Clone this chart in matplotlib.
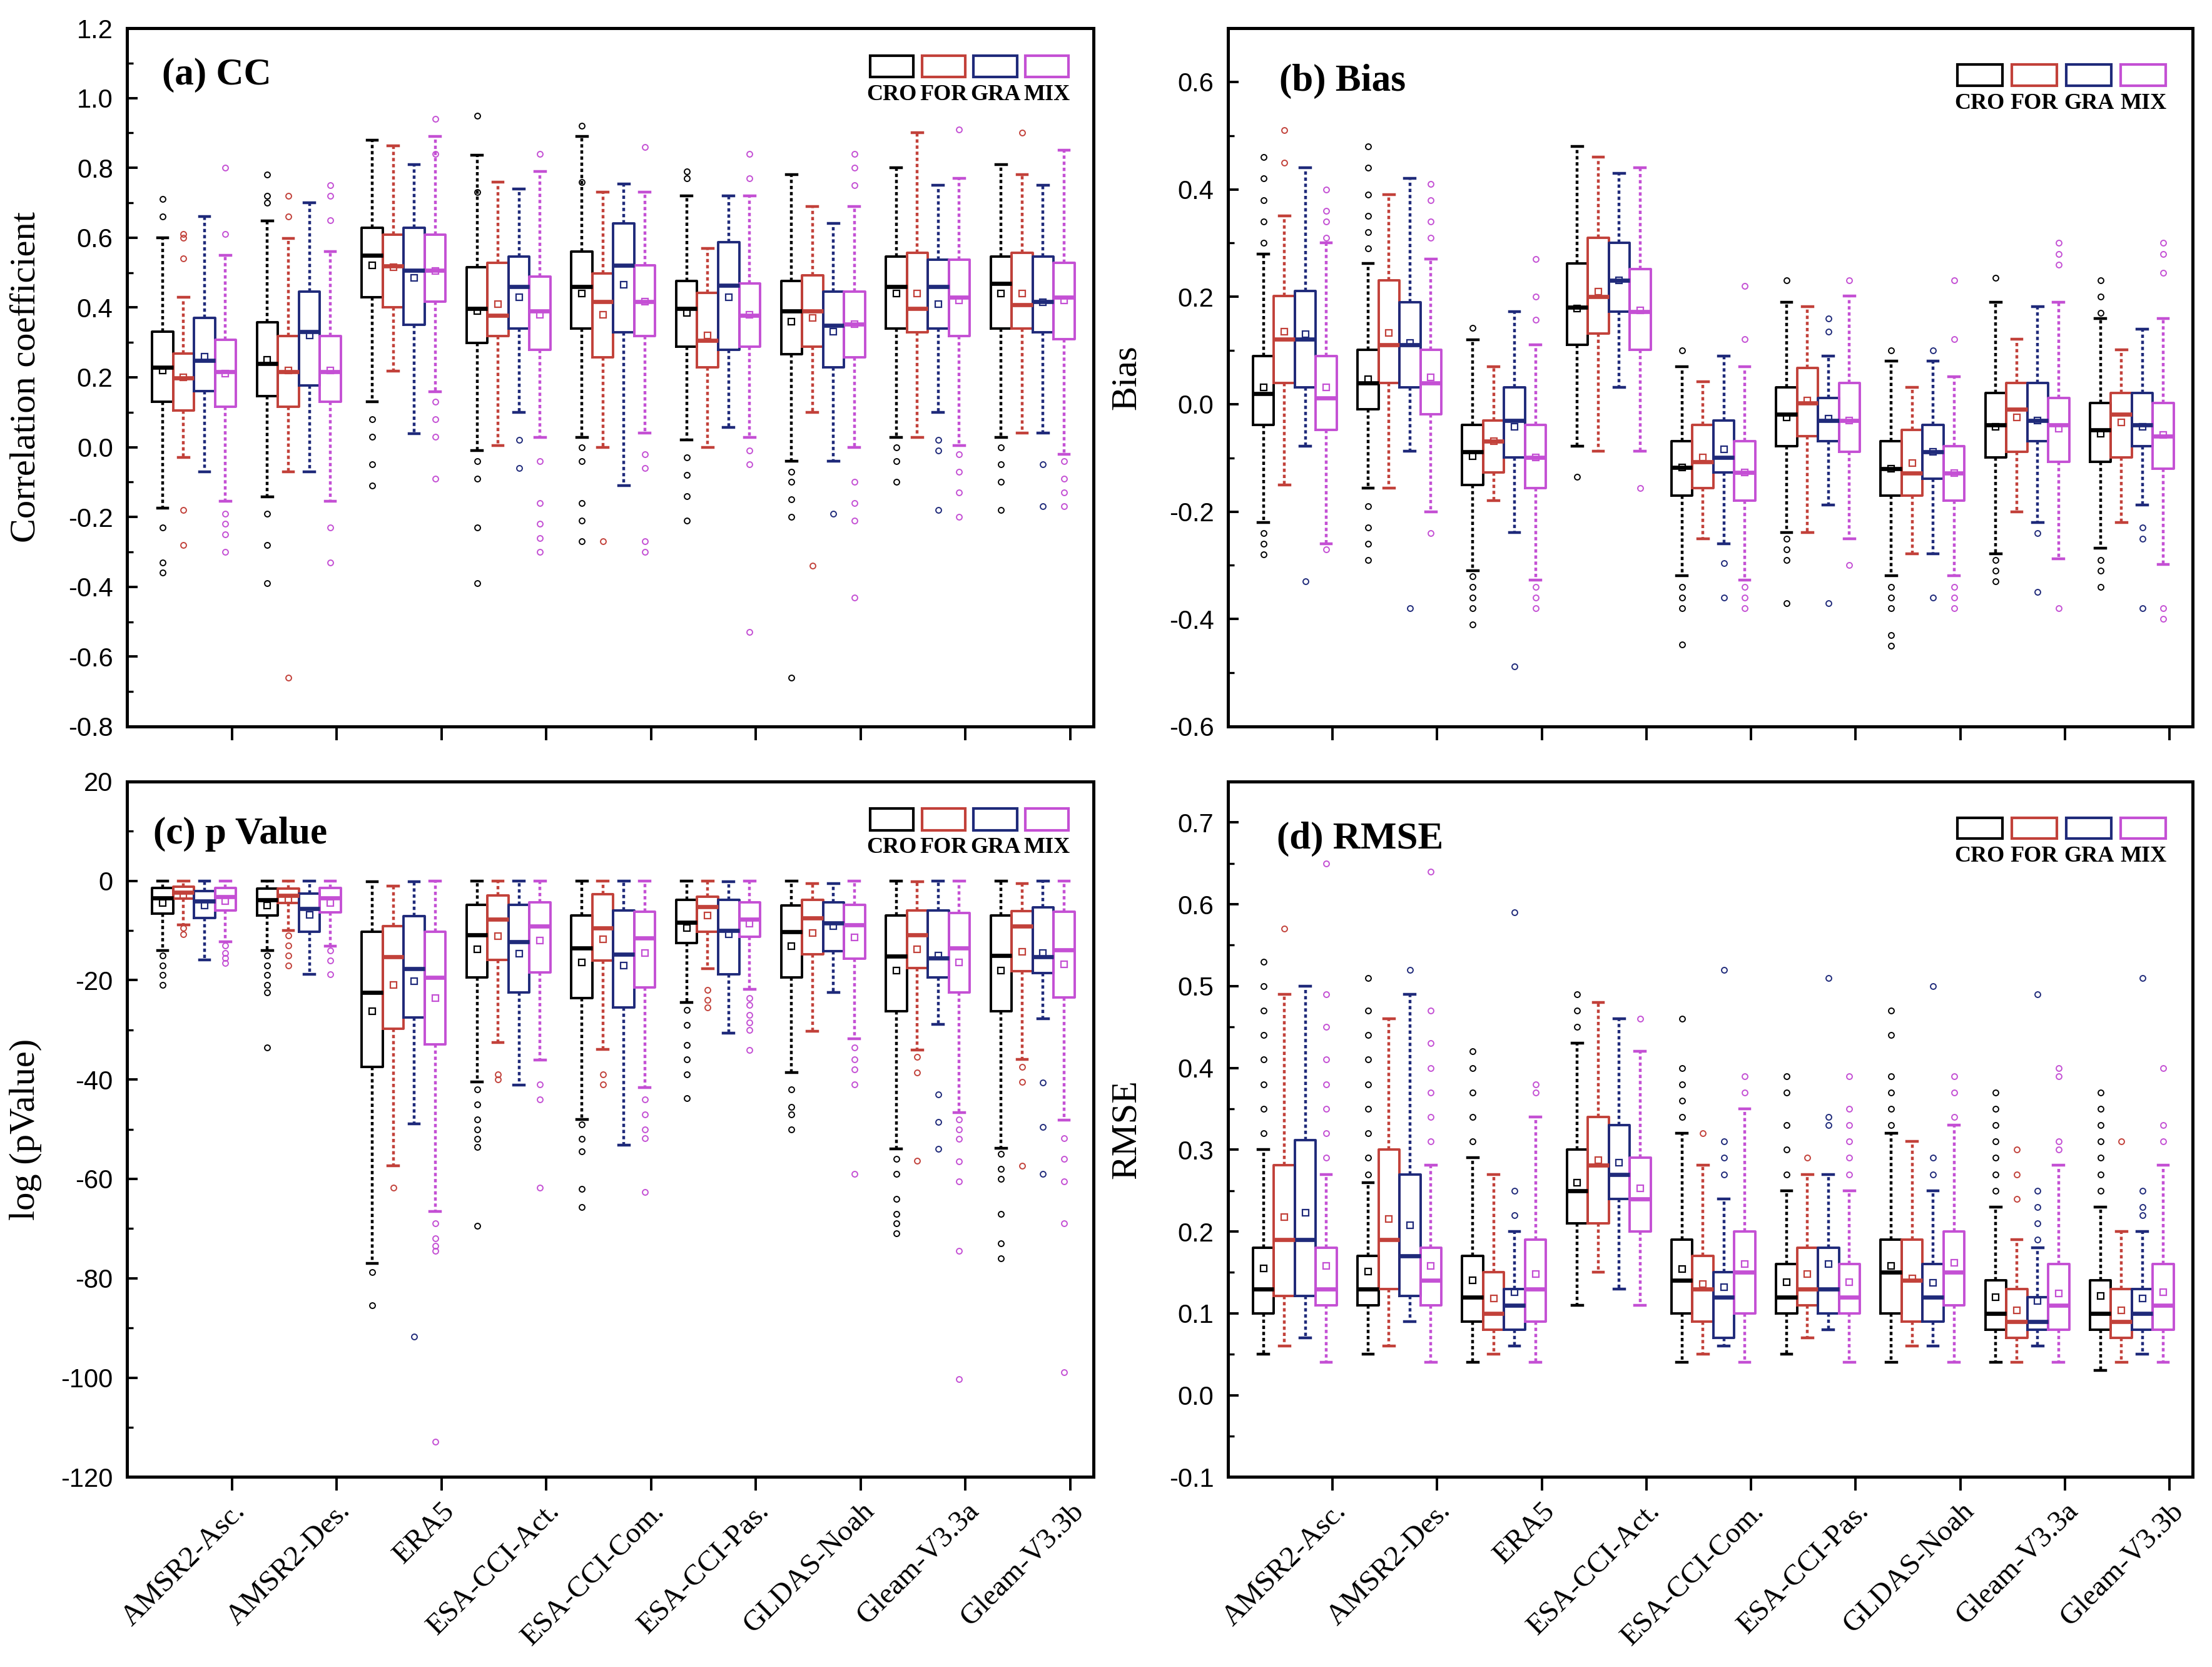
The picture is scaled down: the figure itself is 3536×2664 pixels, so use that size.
import numpy as np
import matplotlib.pyplot as plt
from matplotlib.patches import Rectangle
from matplotlib.ticker import MultipleLocator, FormatStrFormatter

plt.rcParams['font.family'] = 'Liberation Serif'

products = ['AMSR2-Asc.', 'AMSR2-Des.', 'ERA5', 'ESA-CCI-Act.', 'ESA-CCI-Com.',
            'ESA-CCI-Pas.', 'GLDAS-Noah', 'Gleam-V3.3a', 'Gleam-V3.3b']
classes = ['CRO', 'FOR', 'GRA', 'MIX']
colors = ['#000000', '#C2413A', '#1F2A7A', '#C450D4']

# ---- (a) CC : rows = products, cols = CRO, FOR, GRA, MIX ----
cc_q1 = [[0.13, 0.105, 0.16, 0.115], [0.146, 0.116, 0.176, 0.13], [0.43, 0.40, 0.35, 0.417],
         [0.298, 0.318, 0.34, 0.279], [0.339, 0.257, 0.329, 0.318], [0.287, 0.228, 0.279, 0.287],
         [0.267, 0.287, 0.228, 0.257], [0.339, 0.329, 0.339, 0.318], [0.339, 0.339, 0.329, 0.309]]
cc_med = [[0.228, 0.198, 0.248, 0.216], [0.24, 0.216, 0.33, 0.216], [0.549, 0.519, 0.507, 0.507],
          [0.398, 0.378, 0.459, 0.39], [0.459, 0.417, 0.52, 0.417], [0.398, 0.306, 0.464, 0.378],
          [0.39, 0.39, 0.348, 0.352], [0.459, 0.398, 0.459, 0.429], [0.468, 0.407, 0.417, 0.429]]
cc_q3 = [[0.33, 0.268, 0.37, 0.308], [0.358, 0.318, 0.446, 0.318], [0.629, 0.609, 0.629, 0.609],
         [0.515, 0.528, 0.546, 0.489], [0.56, 0.498, 0.64, 0.52], [0.476, 0.442, 0.588, 0.468],
         [0.476, 0.492, 0.446, 0.446], [0.546, 0.557, 0.537, 0.537], [0.546, 0.557, 0.546, 0.528]]
cc_lo = [[-0.175, -0.03, -0.07, -0.154], [-0.142, -0.07, -0.07, -0.154], [0.13, 0.218, 0.039, 0.159],
         [-0.01, 0.005, 0.10, 0.028], [0.028, 0.0, -0.11, 0.04], [0.02, 0.0, 0.057, 0.028],
         [-0.04, 0.10, -0.04, 0.0], [0.028, 0.028, 0.10, 0.005], [0.028, 0.04, 0.04, -0.02]]
cc_hi = [[0.60, 0.43, 0.66, 0.55], [0.648, 0.598, 0.70, 0.56], [0.879, 0.863, 0.809, 0.89],
         [0.837, 0.759, 0.74, 0.79], [0.89, 0.73, 0.753, 0.73], [0.72, 0.57, 0.72, 0.72],
         [0.78, 0.69, 0.64, 0.69], [0.80, 0.90, 0.75, 0.77], [0.81, 0.78, 0.75, 0.85]]
cc_mean = [[0.22, 0.20, 0.26, 0.21], [0.25, 0.22, 0.32, 0.22], [0.52, 0.515, 0.485, 0.505],
           [0.39, 0.41, 0.43, 0.38], [0.44, 0.38, 0.465, 0.417], [0.385, 0.32, 0.43, 0.38],
           [0.36, 0.37, 0.33, 0.352], [0.44, 0.44, 0.41, 0.42], [0.44, 0.44, 0.415, 0.42]]
cc_fliers = [
    [[0.71, 0.66, -0.23, -0.33, -0.36], [0.61, 0.60, 0.54, -0.18, -0.28], [], [0.80, 0.61, -0.19, -0.22, -0.25, -0.30]],
    [[0.78, 0.72, 0.70, -0.19, -0.28, -0.39], [0.72, 0.66, -0.66], [], [0.75, 0.72, 0.65, -0.23, -0.33]],
    [[0.08, 0.03, -0.05, -0.11], [], [], [0.94, 0.84, 0.13, 0.08, 0.03, -0.09]],
    [[0.95, 0.73, -0.04, -0.09, -0.23, -0.39], [], [0.02, -0.06], [0.84, -0.04, -0.16, -0.22, -0.26, -0.30]],
    [[0.92, 0.76, 0.0, -0.04, -0.16, -0.21, -0.27], [-0.27], [], [0.86, -0.02, -0.06, -0.27, -0.30]],
    [[0.79, 0.77, -0.03, -0.08, -0.14, -0.21], [], [], [0.84, 0.77, -0.01, -0.05, -0.53]],
    [[-0.07, -0.10, -0.15, -0.20, -0.66], [-0.34], [-0.19], [0.84, 0.80, 0.75, -0.10, -0.16, -0.21, -0.43]],
    [[0.0, -0.04, -0.10], [], [0.02, -0.01, -0.18], [0.91, -0.02, -0.07, -0.13, -0.20]],
    [[0.0, -0.05, -0.10, -0.18], [0.90], [-0.05, -0.17], [-0.04, -0.09, -0.13, -0.17]],
]

# ---- (b) Bias ----
bias_q1 = [[-0.038, 0.04, 0.031, -0.048], [-0.009, 0.04, 0.031, -0.019], [-0.15, -0.127, -0.099, -0.156],
           [0.11, 0.131, 0.172, 0.101], [-0.17, -0.156, -0.127, -0.18], [-0.078, -0.059, -0.069, -0.089],
           [-0.17, -0.17, -0.139, -0.18], [-0.099, -0.089, -0.069, -0.107], [-0.107, -0.099, -0.078, -0.12]]
bias_med = [[0.02, 0.121, 0.121, 0.011], [0.04, 0.11, 0.11, 0.04], [-0.089, -0.069, -0.03, -0.099],
            [0.181, 0.2, 0.231, 0.172], [-0.118, -0.107, -0.099, -0.127], [-0.019, 0.002, -0.03, -0.03],
            [-0.12, -0.128, -0.089, -0.128], [-0.038, -0.009, -0.03, -0.038], [-0.048, -0.019, -0.038, -0.059]]
bias_q3 = [[0.09, 0.202, 0.211, 0.09], [0.101, 0.231, 0.19, 0.101], [-0.038, -0.03, 0.031, -0.038],
           [0.262, 0.31, 0.30, 0.251], [-0.069, -0.038, -0.03, -0.069], [0.031, 0.068, 0.011, 0.04],
           [-0.069, -0.048, -0.038, -0.078], [0.021, 0.04, 0.04, 0.011], [0.002, 0.021, 0.021, 0.002]]
bias_lo = [[-0.22, -0.15, -0.078, -0.26], [-0.156, -0.156, -0.087, -0.2], [-0.31, -0.18, -0.239, -0.328],
           [-0.078, -0.087, 0.031, -0.087], [-0.319, -0.25, -0.26, -0.328], [-0.239, -0.239, -0.188, -0.25],
           [-0.319, -0.279, -0.279, -0.319], [-0.279, -0.2, -0.22, -0.288], [-0.268, -0.22, -0.188, -0.298]]
bias_hi = [[0.28, 0.35, 0.44, 0.30], [0.262, 0.39, 0.42, 0.27], [0.12, 0.07, 0.172, 0.11],
           [0.48, 0.46, 0.43, 0.44], [0.07, 0.042, 0.09, 0.07], [0.19, 0.182, 0.09, 0.201],
           [0.08, 0.031, 0.08, 0.051], [0.19, 0.121, 0.182, 0.19], [0.16, 0.101, 0.14, 0.16]]
bias_mean = [[0.031, 0.135, 0.13, 0.031], [0.046, 0.133, 0.114, 0.05], [-0.097, -0.069, -0.042, -0.099],
             [0.178, 0.21, 0.23, 0.175], [-0.118, -0.099, -0.084, -0.127], [-0.025, 0.007, -0.027, -0.03],
             [-0.12, -0.11, -0.089, -0.128], [-0.042, -0.025, -0.03, -0.046], [-0.055, -0.034, -0.042, -0.057]]
bias_fliers = [
    [[0.46, 0.42, 0.38, 0.34, 0.30, -0.24, -0.26, -0.28], [0.51, 0.45], [-0.33], [0.40, 0.36, 0.34, 0.31, -0.27]],
    [[0.48, 0.44, 0.39, 0.35, 0.32, 0.29, -0.19, -0.23, -0.26, -0.29], [], [-0.38], [0.41, 0.38, 0.34, 0.31, -0.24]],
    [[0.142, -0.32, -0.34, -0.36, -0.38, -0.41], [], [-0.488], [0.27, 0.20, 0.157, -0.34, -0.36, -0.38]],
    [[-0.135], [], [], [-0.156]],
    [[0.10, -0.34, -0.36, -0.38, -0.448], [], [-0.296, -0.36], [0.22, 0.121, -0.34, -0.36, -0.38]],
    [[0.23, -0.25, -0.27, -0.29, -0.37], [], [0.16, 0.135, -0.37], [0.23, -0.30]],
    [[0.10, -0.34, -0.36, -0.38, -0.43, -0.45], [], [0.10, -0.36], [0.23, 0.121, -0.34, -0.36, -0.38]],
    [[0.235, -0.29, -0.31, -0.33], [], [-0.24, -0.35], [0.30, 0.28, 0.26, -0.38]],
    [[0.23, 0.20, 0.17, -0.29, -0.31, -0.34], [], [-0.23, -0.25, -0.38], [0.30, 0.28, 0.245, -0.38, -0.40]],
]

# ---- (c) log(pValue) ----
pv_q1 = [[-6.6, -3.6, -7.5, -6.0], [-7.0, -4.5, -10.3, -6.4], [-37.5, -29.8, -27.5, -32.9],
         [-19.4, -15.9, -22.5, -18.4], [-23.6, -16.1, -25.5, -21.5], [-12.5, -10.3, -18.8, -11.2],
         [-19.4, -14.8, -14.1, -15.6], [-26.2, -17.5, -19.4, -22.5], [-26.2, -18.2, -18.6, -23.5]]
pv_med = [[-3.5, -2.3, -4.1, -3.2], [-3.8, -2.9, -5.6, -3.5], [-22.5, -15.3, -17.7, -19.5],
          [-10.9, -7.7, -12.3, -9.1], [-13.5, -9.5, -14.8, -11.5], [-8.4, -5.2, -10.0, -7.7],
          [-10.3, -7.5, -8.5, -8.8], [-15.2, -10.9, -15.5, -13.5], [-15.0, -9.1, -15.3, -13.9]]
pv_q3 = [[-1.4, -1.2, -2.0, -1.4], [-1.6, -1.6, -2.5, -1.4], [-10.3, -9.1, -7.1, -10.3],
         [-4.8, -2.9, -4.8, -4.3], [-7.0, -2.7, -6.0, -6.2], [-3.8, -3.2, -3.8, -4.3],
         [-5.0, -3.8, -4.3, -4.8], [-7.0, -6.0, -6.0, -6.5], [-7.0, -6.1, -5.3, -6.2]]
pv_lo = [[-14, -8.8, -15.9, -12.3], [-14, -10, -18.8, -13.2], [-77, -57.3, -48.9, -66.5],
         [-40.5, -32.5, -41.1, -36.1], [-48, -33.9, -53.2, -41.6], [-24.5, -17.7, -30.7, -21.8],
         [-38.6, -30.3, -22.5, -31.8], [-54, -34, -28.9, -46.6], [-53.8, -35.9, -27.7, -48.2]]
pv_hi = [[0, 0, 0, 0], [0, 0, 0, 0], [-0.2, -1.1, -0.2, 0],
         [0, 0, 0, 0], [0, 0, 0, 0], [0, 0, -0.2, 0],
         [0, -0.5, -0.6, 0], [0, -0.2, 0, 0], [0, -0.5, 0, 0]]
pv_mean = [[-4.5, -2.9, -5.0, -4.1], [-5.0, -3.8, -6.9, -4.5], [-26.2, -20.9, -20.2, -23.6],
           [-13.8, -11.1, -14.7, -12.0], [-16.4, -11.8, -17.0, -14.5], [-9.5, -7.0, -10.7, -8.6],
           [-13.2, -10.5, -9.1, -11.4], [-18.0, -13.8, -15.0, -16.4], [-18.0, -14.3, -14.5, -16.8]]
pv_fliers = [
    [[-15, -17, -19, -21], [-9.5, -10.7], [], [-13, -14.5, -15.5, -16.5]],
    [[-15, -17, -19, -21, -22.5, -33.5], [-11, -13, -15, -17], [], [-14, -16, -18.8]],
    [[-78.8, -85.5], [-61.8], [-91.8], [-69, -72, -73.5, -74.5, -112.9]],
    [[-42, -45, -48, -50, -52, -53.6, -69.5], [-39, -40], [], [-41, -44, -61.8]],
    [[-49, -52, -54.5, -62, -65.7], [-39, -41], [], [-44, -47, -50, -51.8, -62.7]],
    [[-26, -29, -33, -36, -39, -43.8], [-22, -24, -25.5], [], [-23.6, -25, -27, -28.5, -30, -34]],
    [[-42, -45.5, -47, -50], [], [], [-33.6, -36, -38, -41, -59]],
    [[-56, -59, -64, -67, -69, -71], [-35.5, -38.6, -56.4], [-43, -48.6, -54], [-48, -50, -52, -56.5, -60.5, -74.5, -100.3]],
    [[-55, -58, -60, -67, -73, -76], [-37.5, -40.5, -57.3], [-40.6, -49.5, -59], [-51.8, -56, -60.5, -69, -98.9]],
]

# ---- (d) RMSE ----
rmse_q1 = [[0.10, 0.121, 0.121, 0.11], [0.11, 0.13, 0.121, 0.11], [0.09, 0.08, 0.08, 0.09],
           [0.21, 0.21, 0.24, 0.20], [0.10, 0.09, 0.07, 0.10], [0.10, 0.11, 0.10, 0.10],
           [0.10, 0.09, 0.09, 0.11], [0.08, 0.07, 0.08, 0.08], [0.08, 0.07, 0.08, 0.08]]
rmse_med = [[0.13, 0.19, 0.19, 0.13], [0.13, 0.19, 0.17, 0.14], [0.12, 0.10, 0.11, 0.13],
            [0.25, 0.281, 0.27, 0.24], [0.14, 0.13, 0.12, 0.15], [0.12, 0.13, 0.13, 0.12],
            [0.15, 0.14, 0.12, 0.15], [0.10, 0.09, 0.09, 0.11], [0.10, 0.09, 0.10, 0.11]]
rmse_q3 = [[0.18, 0.281, 0.312, 0.18], [0.17, 0.30, 0.27, 0.18], [0.17, 0.15, 0.13, 0.19],
           [0.30, 0.34, 0.33, 0.29], [0.19, 0.17, 0.15, 0.20], [0.16, 0.18, 0.18, 0.16],
           [0.19, 0.19, 0.16, 0.20], [0.14, 0.13, 0.12, 0.16], [0.14, 0.13, 0.13, 0.16]]
rmse_lo = [[0.05, 0.06, 0.07, 0.04], [0.05, 0.06, 0.09, 0.04], [0.04, 0.05, 0.06, 0.04],
           [0.11, 0.15, 0.13, 0.11], [0.04, 0.05, 0.06, 0.04], [0.05, 0.07, 0.08, 0.04],
           [0.04, 0.06, 0.06, 0.04], [0.04, 0.04, 0.06, 0.04], [0.03, 0.04, 0.05, 0.04]]
rmse_hi = [[0.30, 0.49, 0.50, 0.27], [0.26, 0.46, 0.49, 0.281], [0.29, 0.27, 0.20, 0.34],
           [0.43, 0.48, 0.46, 0.42], [0.32, 0.281, 0.24, 0.35], [0.25, 0.27, 0.27, 0.25],
           [0.32, 0.31, 0.25, 0.33], [0.23, 0.19, 0.18, 0.281], [0.23, 0.20, 0.20, 0.281]]
rmse_mean = [[0.155, 0.218, 0.223, 0.158], [0.151, 0.215, 0.208, 0.158], [0.14, 0.118, 0.126, 0.148],
             [0.26, 0.287, 0.284, 0.253], [0.154, 0.136, 0.132, 0.16], [0.138, 0.148, 0.16, 0.138],
             [0.158, 0.143, 0.137, 0.162], [0.12, 0.104, 0.115, 0.124], [0.121, 0.104, 0.118, 0.126]]
rmse_fliers = [
    [[0.53, 0.50, 0.47, 0.44, 0.41, 0.38, 0.35, 0.32], [0.57], [], [0.65, 0.49, 0.45, 0.41, 0.38, 0.35, 0.32, 0.29]],
    [[0.51, 0.47, 0.44, 0.41, 0.38, 0.35, 0.32, 0.29, 0.27], [], [0.52], [0.64, 0.47, 0.43, 0.40, 0.37, 0.34, 0.31]],
    [[0.42, 0.40, 0.37, 0.34, 0.31], [], [0.59, 0.25, 0.22], [0.38, 0.37]],
    [[0.49, 0.47, 0.45], [], [], [0.46]],
    [[0.46, 0.40, 0.38, 0.36, 0.34], [0.32], [0.52, 0.31, 0.29, 0.27], [0.39, 0.37]],
    [[0.39, 0.37, 0.33, 0.30, 0.27], [0.29], [0.51, 0.34, 0.33], [0.39, 0.35, 0.33, 0.31, 0.29, 0.27]],
    [[0.47, 0.44, 0.39, 0.37, 0.35, 0.33], [], [0.50, 0.29, 0.27], [0.39, 0.37, 0.34]],
    [[0.37, 0.35, 0.33, 0.31, 0.29, 0.27, 0.25], [0.30, 0.27, 0.24], [0.49, 0.25, 0.23, 0.21, 0.19], [0.40, 0.39, 0.31, 0.30]],
    [[0.37, 0.35, 0.33, 0.31, 0.29, 0.27, 0.25], [0.31], [0.51, 0.25, 0.23, 0.22], [0.40, 0.33, 0.31]],
]


def draw_boxes(ax, q1, med, q3, lo, hi, mean, fliers):
    x = np.arange(1, len(products) + 1)
    for k, c in enumerate(colors):
        stats = []
        for i in range(len(products)):
            stats.append(dict(q1=q1[i][k], med=med[i][k], q3=q3[i][k],
                              whislo=lo[i][k], whishi=hi[i][k], mean=mean[i][k],
                              fliers=fliers[i][k]))
        ax.bxp(stats, positions=x - 0.66 + 0.2 * k, widths=0.2, capwidths=0.1,
               showmeans=True, manage_ticks=False,
               boxprops=dict(color=c, lw=1.4),
               whiskerprops=dict(color=c, lw=1.6, ls=(0, (1.2, 1.0))),
               capprops=dict(color=c, lw=1.6),
               medianprops=dict(color=c, lw=2.4),
               meanprops=dict(marker='s', markersize=3.5, mfc='none', mec=c, mew=0.8),
               flierprops=dict(marker='o', markersize=3.2, mfc='none', mec=c, mew=0.7))


def style_axes(ax, ylim, major, minor, fmt, ylabel, title, title_x, title_y, leg, xlabels):
    ax.set_xlim(0, 9.22)
    ax.set_ylim(*ylim)
    ax.yaxis.set_major_locator(MultipleLocator(major))
    ax.yaxis.set_minor_locator(MultipleLocator(minor))
    ax.yaxis.set_major_formatter(FormatStrFormatter(fmt))
    ax.set_xticks(np.arange(1, len(products) + 1))
    if xlabels:
        ax.set_xticklabels(products, rotation=45, ha='right', va='top',
                           rotation_mode='anchor', fontsize=17)
    else:
        ax.set_xticklabels([])
    ax.tick_params(axis='y', which='major', direction='in', length=6, width=1.4,
                   labelsize=15, pad=8)
    ax.tick_params(axis='y', which='minor', direction='in', length=3.5, width=1.2)
    ax.tick_params(axis='x', which='major', direction='out', length=8, width=1.4, pad=4)
    for lab in ax.get_yticklabels():
        lab.set_family('Liberation Sans')
    for s in ax.spines.values():
        s.set_linewidth(1.8)
    ax.set_ylabel(ylabel, fontsize=21)
    ax.yaxis.set_label_coords(-0.088, 0.5)
    ax.text(title_x, title_y, title, transform=ax.transAxes, fontsize=22,
            fontweight='bold', ha='left', va='center')
    # legend: boxes with labels underneath
    x0, step, w, ytop, ybot, ytxt = leg
    for k, (c, name) in enumerate(zip(colors, classes)):
        ax.add_patch(Rectangle((x0 + k * step, ybot), w, ytop - ybot, transform=ax.transAxes,
                               fill=False, ec=c, lw=1.5, clip_on=False))
        ax.text(x0 + k * step + w / 2, ytxt, name, transform=ax.transAxes, fontsize=13,
                fontweight='bold', ha='center', va='center')


fig = plt.figure(figsize=(17.68, 13.32), dpi=200)
ax_a = fig.add_axes([0.0574, 0.5642, 0.4369, 0.4189])
ax_b = fig.add_axes([0.5551, 0.5642, 0.4361, 0.4189])
ax_c = fig.add_axes([0.0574, 0.1140, 0.4369, 0.4172])
ax_d = fig.add_axes([0.5551, 0.1140, 0.4361, 0.4172])

draw_boxes(ax_a, cc_q1, cc_med, cc_q3, cc_lo, cc_hi, cc_mean, cc_fliers)
draw_boxes(ax_b, bias_q1, bias_med, bias_q3, bias_lo, bias_hi, bias_mean, bias_fliers)
draw_boxes(ax_c, pv_q1, pv_med, pv_q3, pv_lo, pv_hi, pv_mean, pv_fliers)
draw_boxes(ax_d, rmse_q1, rmse_med, rmse_q3, rmse_lo, rmse_hi, rmse_mean, rmse_fliers)

leg_ac = (0.769, 0.0535, 0.045, 0.961, 0.930, 0.905)
leg_bd = (0.756, 0.0565, 0.047, 0.948, 0.918, 0.892)
style_axes(ax_a, (-0.8, 1.2), 0.2, 0.1, '%.1f', 'Correlation coefficient', '(a) CC', 0.036, 0.933, leg_ac, False)
style_axes(ax_b, (-0.6, 0.7), 0.2, 0.1, '%.1f', 'Bias', '(b) Bias', 0.053, 0.924, leg_bd, False)
style_axes(ax_c, (-120, 20), 20, 10, '%d', 'log (pValue)', '(c) p Value', 0.027, 0.924, leg_ac, True)
style_axes(ax_d, (-0.1, 0.75), 0.1, 0.05, '%.1f', 'RMSE', '(d) RMSE', 0.051, 0.917, leg_bd, True)

fig.savefig('out.png', dpi=200)
